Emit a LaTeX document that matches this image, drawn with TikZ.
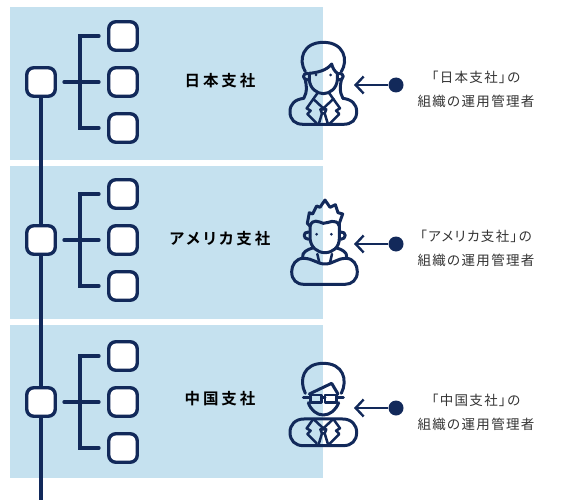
\documentclass[tikz,border=0pt]{standalone}
\usepackage{fontspec}
\usepackage{xcolor}
\usetikzlibrary{arrows.meta, positioning}
\newfontfamily\jplabel[LetterSpace=19,RawFeature={+palt}]{Noto Sans CJK JP Bold}
\newfontfamily\jpnote[LetterSpace=10,RawFeature={+palt}]{Noto Sans CJK JP}
\definecolor{NavyLine}{HTML}{12295A}
\definecolor{PanelFill}{HTML}{C5E1EF}
\definecolor{NoteText}{HTML}{333333}

\begin{document}
\begin{tikzpicture}[
    x=1pt, y=-1pt,
    panel/.style={
        rectangle, minimum width=313pt, minimum height=153pt,
        fill=PanelFill, inner sep=0pt, anchor=north west
    },
    orgbox/.style={
        rectangle, rounded corners=7pt, minimum size=28.5pt, inner sep=0pt,
        draw=NavyLine, line width=3.4pt, fill=white
    },
    spine/.style={draw=NavyLine, line width=3.2pt},
    bracket/.style={draw=NavyLine, line width=3.2pt, line cap=round},
    dot/.style={circle, fill=NavyLine, minimum size=15pt, inner sep=0pt},
    arr/.style={-{Straight Barb[length=8pt, width=17pt, line width=2.4pt]},
        draw=NavyLine, line width=2pt},
    lbl/.style={font=\jplabel\fontsize{15.5}{18}\selectfont, text=black},
    note/.style={font=\jpnote\fontsize{13.5}{24}\selectfont, text=NoteText,
        align=center},
    ico/.style={draw=NavyLine, line width=3pt, line cap=round, line join=round},
    thinico/.style={ico, line width=2.5pt},
    node distance=14.1pt,
    % suit shared by two of the figures
    suit/.pic={
        \begin{scope}[x=0.3333pt, y=-0.3333pt]
            \draw[thinico] (100,207) -- (80,235) -- (92,242) -- (82,252) -- (110,280);
            \draw[thinico] (160,207) -- (180,235) -- (168,242) -- (178,252) -- (150,280);
            \draw[thinico] (100,207) -- (130,235) -- (160,207);
            \draw[thinico] (121,238) -- (139,238) -- (134,250) -- (126,250) -- cycle;
            \draw[thinico] (126,250) -- (116,283) (134,250) -- (144,283);
        \end{scope}
    },
    womanicon/.pic={
        \begin{scope}[x=0.3333pt, y=-0.3333pt]
            % hair
            \draw[ico] (76,125) .. controls (54,90) and (68,37) .. (130,37)
                .. controls (192,37) and (206,90) .. (184,125);
            \draw[ico] (88,130) .. controls (110,128) and (140,122) .. (155,102)
                .. controls (158,115) and (165,125) .. (172,130);
            % face
            \draw[ico] (88,130) -- (88,150) .. controls (90,175) and (110,191) .. (130,191)
                .. controls (150,191) and (170,175) .. (172,150) -- (172,130);
            % ears and long hair
            \draw[ico] (84,130) .. controls (66,128) and (66,150) .. (84,150);
            \draw[ico] (176,130) .. controls (194,128) and (194,150) .. (176,150);
            \draw[ico] (76,150) .. controls (80,170) and (82,185) .. (72,203);
            \draw[ico] (184,150) .. controls (180,170) and (178,185) .. (188,203);
            \fill[NavyLine] (108,135) circle (4.5) (152,135) circle (4.5);
            % body
            \draw[ico] (72,205) .. controls (45,208) and (30,222) .. (30,245)
                .. controls (30,270) and (45,283) .. (70,283) -- (190,283)
                .. controls (215,283) and (230,270) .. (230,245)
                .. controls (230,222) and (215,208) .. (188,205);
            \draw[thinico] (112,190) -- (100,207) (148,190) -- (160,207);
        \end{scope}
        \pic at (0,0) {suit};
    },
    spikeicon/.pic={
        \begin{scope}[x=0.3333pt, y=-0.3333pt]
            % spiky hair
            \draw[ico] (90,108) -- (82,100) -- (88,68) -- (98,72) -- (110,48) -- (120,52)
                -- (135,30) -- (150,52) -- (166,44) -- (174,68) -- (188,72) -- (178,100) -- (178,108);
            \draw[ico] (90,108) .. controls (98,85) and (115,95) .. (130,100)
                .. controls (145,100) and (168,82) .. (178,108);
            % face
            \draw[ico] (90,108) -- (90,145) .. controls (92,172) and (112,188) .. (135,188)
                .. controls (158,188) and (178,172) .. (178,145) -- (178,108);
            \draw[ico] (86,126) .. controls (68,124) and (68,148) .. (86,148);
            \draw[ico] (182,126) .. controls (200,124) and (200,148) .. (182,148);
            \fill[NavyLine] (110,133) circle (4.5) (154,133) circle (4.5);
            % collar and arms
            \draw[ico] (68,200) .. controls (66,188) and (82,178) .. (98,174);
            \draw[ico] (200,200) .. controls (202,188) and (186,178) .. (170,174);
            \draw[thinico] (112,192) -- (118,218) (156,192) -- (150,218);
            \draw[ico] (70,205) .. controls (100,205) and (110,222) .. (135,222)
                .. controls (160,222) and (170,205) .. (198,205)
                .. controls (220,205) and (232,225) .. (232,245)
                .. controls (232,270) and (215,283) .. (195,283) -- (72,283)
                .. controls (50,283) and (35,270) .. (35,245)
                .. controls (35,225) and (48,205) .. (70,205);
        \end{scope}
    },
    glassesicon/.pic={
        \begin{scope}[x=0.3333pt, y=-0.3333pt]
            % hair
            \draw[ico] (76,130) .. controls (56,90) and (70,40) .. (130,40)
                .. controls (190,40) and (204,90) .. (184,130);
            \draw[ico] (88,132) -- (155,100) -- (174,132);
            % glasses
            \draw[thinico] (92,135) rectangle (125,158);
            \draw[thinico] (135,135) rectangle (170,158);
            \draw[ico] (125,143) -- (135,143) (70,143) -- (92,143) (170,143) -- (190,143);
            % face
            \draw[ico] (85,158) .. controls (92,180) and (110,195) .. (130,195)
                .. controls (150,195) and (168,180) .. (176,158);
            % body
            \draw[ico] (72,207) .. controls (45,207) and (30,225) .. (30,247)
                .. controls (30,272) and (45,287) .. (70,287) -- (190,287)
                .. controls (215,287) and (230,272) .. (230,247)
                .. controls (230,225) and (215,207) .. (188,207) -- cycle;
        \end{scope}
        \pic at (0,0) {suit};
    }
]
\useasboundingbox (0,0) rectangle (567,500);

% ===================================================================
% PANELS
% ===================================================================
\node[panel] (panelA) at (10,7) {};
\node[panel] (panelB) at (10,166) {};
\node[panel] (panelC) at (10,325) {};

% ===================================================================
% JAPAN
% ===================================================================
\node[orgbox] (rootA) at (41,82) {};
\node[orgbox] (midA) at (123,82) {};
\node[orgbox, above=of midA] (topA) {};
\node[orgbox, below=of midA] (botA) {};

\draw[bracket] ([xshift=-8pt]topA.west) -- ++(-19,0) |- ([xshift=-8pt]botA.west);
\draw[bracket] ([xshift=7pt]rootA.east) -- ([xshift=-8pt]midA.west);

\node[lbl] (labelA) at (220,81) {日本支社};
\pic (womanA) at (280,30) {womanicon};
\node[dot] (dotA) at (396,85) {};
\coordinate (tipA) at (354,85);
\draw[arr] (dotA) -- (tipA);
\node[note] (noteA) at (476,89) {「日本支社」の\\組織の運用管理者};

% ===================================================================
% AMERICA
% ===================================================================
\node[orgbox] (rootB) at (41,240) {};
\node[orgbox] (midB) at (123,240) {};
\node[orgbox, above=of midB] (topB) {};
\node[orgbox, below=of midB] (botB) {};

\draw[bracket] ([xshift=-8pt]topB.west) -- ++(-19,0) |- ([xshift=-8pt]botB.west);
\draw[bracket] ([xshift=7pt]rootB.east) -- ([xshift=-8pt]midB.west);

\node[lbl] (labelB) at (220,239) {アメリカ支社};
\pic (spikeB) at (280,190) {spikeicon};
\node[dot] (dotB) at (396,244) {};
\coordinate (tipB) at (354,244);
\draw[arr] (dotB) -- (tipB);
\node[note] (noteB) at (476,248) {「アメリカ支社」の\\組織の運用管理者};

% ===================================================================
% CHINA
% ===================================================================
\node[orgbox] (rootC) at (41,402) {};
\node[orgbox] (midC) at (123,402) {};
\node[orgbox, above=of midC] (topC) {};
\node[orgbox, below=of midC] (botC) {};

\draw[bracket] ([xshift=-8pt]topC.west) -- ++(-19,0) |- ([xshift=-8pt]botC.west);
\draw[bracket] ([xshift=7pt]rootC.east) -- ([xshift=-8pt]midC.west);

\node[lbl] (labelC) at (220,399) {中国支社};
\pic (glassesC) at (280,350) {glassesicon};
\node[dot] (dotC) at (396,408) {};
\coordinate (tipC) at (354,408);
\draw[arr] (dotC) -- (tipC);
\node[note] (noteC) at (476,412) {「中国支社」の\\組織の運用管理者};

% Main line
\coordinate (tailEnd) at (41,500);
\draw[spine] (rootA) -- (rootB);
\draw[spine] (rootB) -- (rootC);
\draw[spine] (rootC) -- (tailEnd);

\end{tikzpicture}
\end{document}
